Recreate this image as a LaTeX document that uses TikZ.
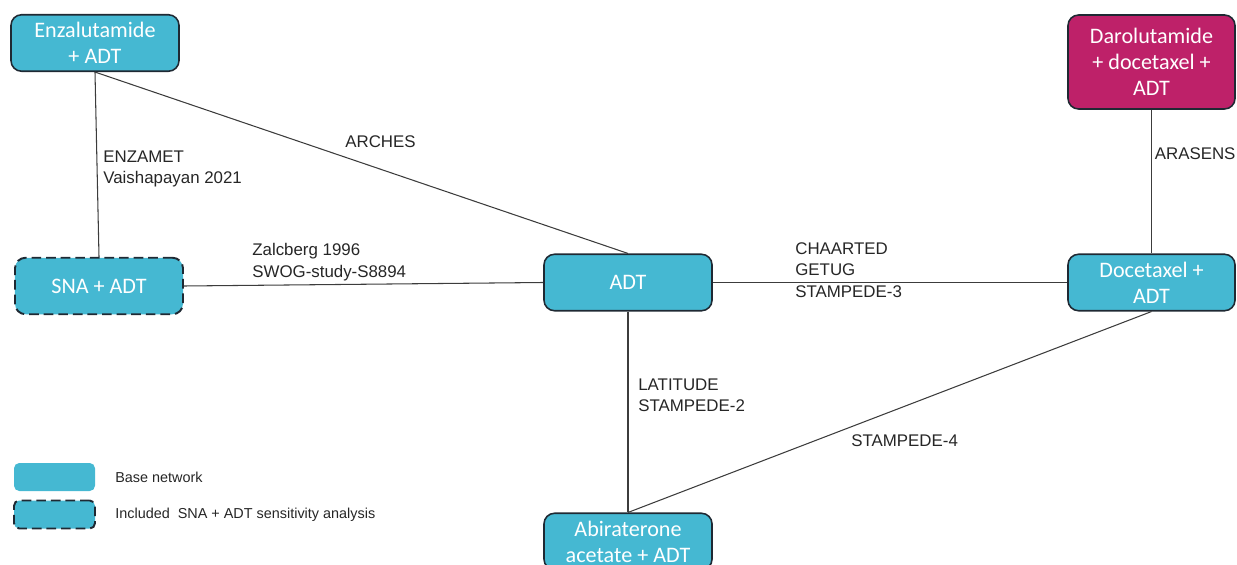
\documentclass[tikz,border=0pt]{standalone}
\usepackage{fontspec}
\setmainfont{Liberation Sans}
\newfontfamily\boxfont{Carlito}
\definecolor{netblue}{RGB}{69,184,210}
\definecolor{netpink}{RGB}{190,33,105}
\definecolor{boxline}{RGB}{31,41,51}
\definecolor{linkgray}{RGB}{60,60,60}
\begin{document}
\begin{tikzpicture}[
		trt/.style={draw=boxline,line width=0.9pt,rounded corners=6pt,fill=netblue,text=white,
			font=\boxfont\fontsize{12.6}{14.8}\selectfont,align=center,
			minimum width=3.36cm,minimum height=1.13cm,inner sep=0pt},
		sens/.style={trt,dash pattern=on 5.5pt off 2.8pt,line width=1.1pt},
		link/.style={draw=linkgray,line width=0.6pt},
		study/.style={anchor=west,align=left,inner sep=0pt,text=black!85,
			font=\fontsize{9.6}{12.2}\selectfont},
		key/.style={fill=netblue,rounded corners=3pt,minimum width=1.62cm,minimum height=0.56cm,inner sep=0pt},
		keytext/.style={anchor=west,inner sep=0pt,text=black!85,font=\fontsize{8.2}{10}\selectfont}]
	\useasboundingbox (0,0) rectangle (24.74,11.28);
	\clip (0,0) rectangle (24.74,11.28);
	% treatments
	\node[trt] (enz) at (1.90,10.42) {Enzalutamide\\+ ADT};
	\node[trt,fill=netpink,minimum width=3.34cm,minimum height=1.88cm] (daro) at (23.03,10.04) {Darolutamide\\+ docetaxel +\\ADT};
	\node[sens] (sna) at (1.98,5.56) {SNA + ADT};
	\node[trt] (adt) at (12.56,5.63) {ADT};
	\node[trt,minimum width=3.34cm] (doc) at (23.03,5.63) {Docetaxel +\\ADT};
	\node[trt] (abi) at (12.56,0.45) {Abiraterone\\acetate + ADT};
	% trials
	\draw[link] (enz.south) -- (sna.north);
	\draw[link] (enz.south) -- (adt.north);
	\draw[link] (sna.east) -- (adt.west);
	\draw[link] (adt.east) -- (doc.west);
	\draw[link] (daro.south) -- (doc.north);
	\draw[link] (adt.south) -- (abi.north);
	\draw[link] (doc.south) -- (abi.north);
	\path (2.06,7.90) node[study]{ENZAMET\\Vaishapayan 2021};
	\path (6.90,8.44) node[study]{ARCHES};
	\path (5.04,6.04) node[study]{Zalcberg 1996\\SWOG-study-S8894};
	\path (15.90,5.88) node[study]{CHAARTED\\GETUG\\STAMPEDE-3};
	\path (23.09,8.20) node[study]{ARASENS};
	\path (12.76,3.37) node[study]{LATITUDE\\STAMPEDE-2};
	\path (17.02,2.46) node[study]{STAMPEDE-4};
	% legend
	\node[key] (base) at (1.09,1.74) {};
	\node[key,draw=boxline,line width=1.1pt,dash pattern=on 5.5pt off 2.8pt] (incl) at (1.09,0.99) {};
	\node[keytext] at (2.30,1.74) {Base network};
	\node[keytext] at (2.30,0.99) {Included\ \ SNA + ADT sensitivity analysis};
\end{tikzpicture}
\end{document}
